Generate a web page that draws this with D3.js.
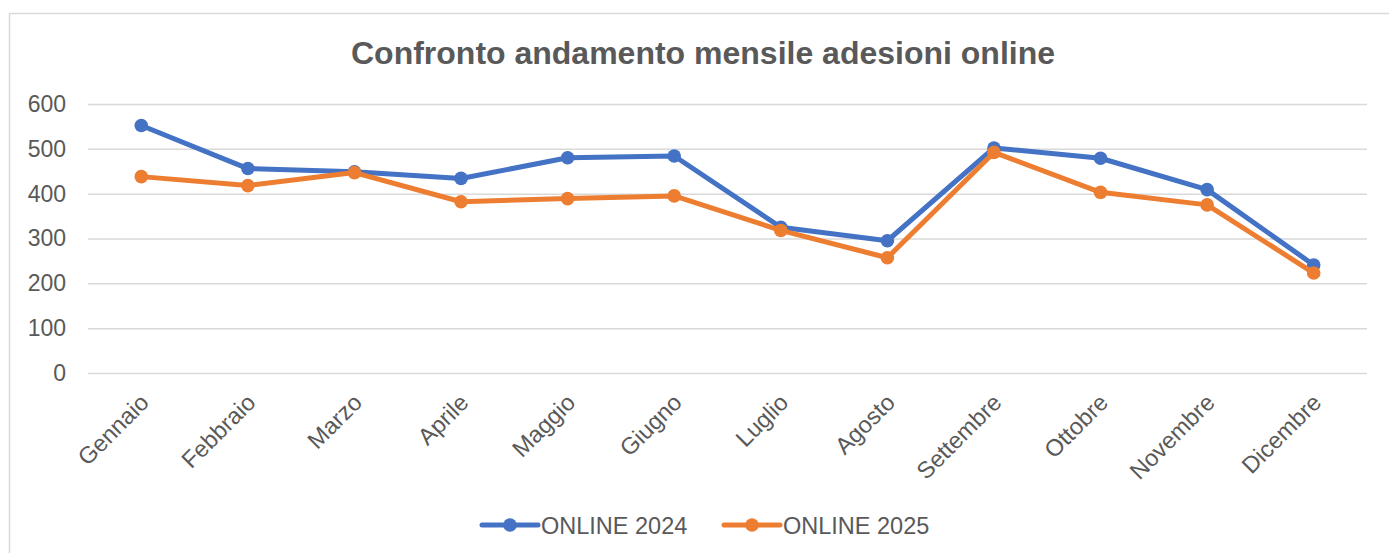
<!DOCTYPE html>
<html><head><meta charset="utf-8">
<script src="https://cdn.jsdelivr.net/npm/d3@7"></script>
<style>body{margin:0;background:#fff;}svg{display:block;}</style>
</head><body>
<svg id="c" width="1389" height="553"></svg>
<script>
const months = ["Gennaio","Febbraio","Marzo","Aprile","Maggio","Giugno","Luglio","Agosto","Settembre","Ottobre","Novembre","Dicembre"];
const online2024 = [552,456,449,434,480,484,325,295,502,479,409,241];
const online2025 = [438,418,447,382,389,395,318,257,492,403,375,223];
const yTicks = [0,100,200,300,400,500,600];
const seriesNames = ["ONLINE 2024","ONLINE 2025"];
const colors = ["#4472C4","#ED7D31"];

const svg = d3.select("#c");
const font = "'Liberation Sans', Arial, sans-serif";
svg.append("rect").attr("x",9.5).attr("y",13.5).attr("width",1400).attr("height",600)
  .attr("fill","#fff").attr("stroke","#d9d9d9").attr("stroke-width",1.5);

const x = d3.scaleBand().domain(months).range([88,1367]);
const y = d3.scaleLinear().domain([0,600]).range([373,104]);

svg.append("text").attr("x",703).attr("y",64).attr("text-anchor","middle")
  .attr("font-family",font).attr("font-weight","bold").attr("font-size",32).attr("fill","#595959")
  .text("Confronto andamento mensile adesioni online");

const yAxis = svg.append("g").attr("transform","translate(88,0)")
  .call(d3.axisLeft(y).tickValues(yTicks).tickSize(-(1367-88)).tickPadding(22));
yAxis.select(".domain").remove();
yAxis.selectAll("line").attr("stroke","#d9d9d9").attr("stroke-width",1.5);
yAxis.selectAll("text").attr("font-family",font).attr("font-size",23).attr("fill","#595959");

const xAxis = svg.append("g").attr("transform","translate(0,373)")
  .call(d3.axisBottom(x).tickSize(0).tickPadding(0));
xAxis.select(".domain").remove();
xAxis.selectAll("text").attr("font-family",font).attr("font-size",23.5).attr("fill","#595959")
  .attr("text-anchor","end").attr("dy",0)
  .attr("transform","translate(9,31) rotate(-45)");

const data = [online2024, online2025];
const line = d3.line().x((d,i)=>x(months[i])+x.bandwidth()/2).y(d=>y(d));
data.forEach((s,k)=>{
  svg.append("path").datum(s).attr("d",line).attr("fill","none")
    .attr("stroke",colors[k]).attr("stroke-width",5).attr("stroke-linejoin","round");
  svg.selectAll(null).data(s).enter().append("circle")
    .attr("cx",(d,i)=>x(months[i])+x.bandwidth()/2).attr("cy",d=>y(d)).attr("r",6.8)
    .attr("fill",colors[k]);
});

const legX = [482, 724];
seriesNames.forEach((n,k)=>{
  const g = svg.append("g").attr("transform",`translate(${legX[k]},525)`);
  g.append("line").attr("x1",0).attr("x2",56).attr("stroke",colors[k]).attr("stroke-width",5).attr("stroke-linecap","round");
  g.append("circle").attr("cx",28).attr("r",6.8).attr("fill",colors[k]);
  g.append("text").attr("x",59).attr("y",8.5).attr("font-family",font).attr("font-size",23.5).attr("fill","#595959").text(n);
});
</script>
</body></html>
